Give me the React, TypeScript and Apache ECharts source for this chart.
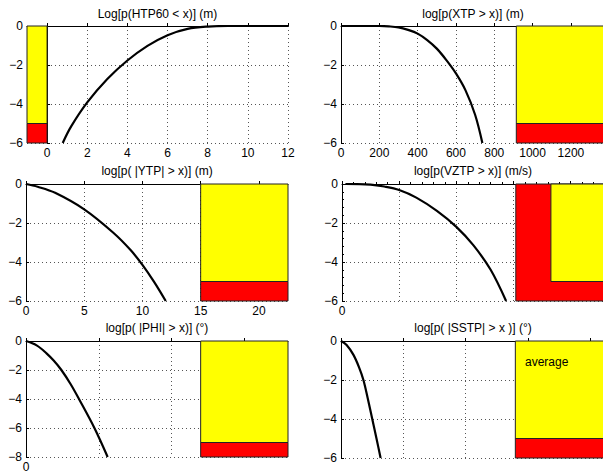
import React, { useEffect, useRef } from "react";
import * as echarts from "echarts";

const FONT = "'Liberation Sans', Arial, Helvetica, sans-serif";
const YELLOW = "#ffff00";
const RED = "#ff0000";

// Titles
const titles = [
  "Log[p(HTP60 < x)] (m)",
  "log[p(XTP > x)] (m)",
  "log[p( |YTP| > x)] (m)",
  "log[p(VZTP > x)] (m/s)",
  "log[p( |PHI| > x)] (°)",
  "log[p( |SSTP| > x )] (°)",
];

// Curves [x, log10 p]
const htpCurve = [
  [0.78, -6], [1.2, -5.15], [2, -3.92], [3, -2.72], [4, -1.77], [5, -1.02],
  [6, -0.47], [7, -0.15], [8, -0.03], [9, 0], [10, 0], [11, 0], [12, 0],
];
const xtpCurve = [
  [0, 0], [100, 0], [200, 0], [250, -0.02], [300, -0.07], [350, -0.2], [400, -0.39],
  [450, -0.72], [500, -1.16], [550, -1.75], [600, -2.43], [650, -3.3], [700, -4.55],
  [738, -6],
];
const ytpCurve = [
  [0, 0], [1, -0.14], [2.5, -0.45], [5, -1.3], [7.5, -2.5], [9, -3.4], [10, -4.15],
  [11, -5.02], [12, -6],
];
const vztpCurve = [
  [0.3, 0], [2.5, -0.03], [3.7, -0.13], [5, -0.31], [6.5, -0.7], [8.3, -1.38],
  [10, -2.2], [11.5, -3.15], [13, -4.4], [14.35, -6],
];
const phiCurve = [
  [0, 0], [0.73, -0.3], [1.41, -0.85], [1.9, -1.35], [2.43, -2], [3.05, -2.95],
  [3.64, -4], [4.7, -6], [5.61, -8],
];
const sstpCurve = [
  [0, 0], [0.45, -0.2], [0.99, -0.7], [1.45, -1.35], [1.8, -2], [2.15, -2.95],
  [2.51, -4], [2.85, -5], [3.18, -6],
];

// Rectangles [x0, x1, y0, y1] and their colours
const htpRects = [[-1, 0, 0, -5], [-1, 0, -5, -6]];
const xtpRects = [[915, 1378, 0, -5], [915, 1378, -5, -6]];
const ytpRects = [[15, 22.5, 0, -5], [15, 22.5, -5, -6]];
const vztpRects = [[15.2, 23, 0, -6], [18.27, 23, 0, -5]];
const phiRects = [[12, 18, 0, -7], [12, 18, -7, -8]];
const sstpRects = [[14, 21.2, 0, -5], [14, 21.2, -5, -6]];
const htpColors = [YELLOW, RED];
const xtpColors = [YELLOW, RED];
const ytpColors = [YELLOW, RED];
const vztpColors = [RED, YELLOW];
const phiColors = [YELLOW, RED];
const sstpColors = [YELLOW, RED];

// Axis ranges / ticks
const xMins = [-1, 0, 0, 0, 0, 0];
const xMaxs = [12, 1378, 22.5, 23, 18, 21.2];
const yMins = [-6, -6, -6, -6, -8, -6];
const xTicks = [
  [0, 2, 4, 6, 8, 10, 12],
  [0, 200, 400, 600, 800, 1000, 1200],
  [0, 5, 10, 15, 20],
  [0, 5, 10, 15, 20],
  [0, 5, 10, 15],
  [0, 5, 10, 15, 20],
];
const xLabels = [
  [0, 2, 4, 6, 8, 10, 12],
  [0, 200, 400, 600, 800, 1000, 1200],
  [0, 5, 10, 15, 20],
  [0],
  [0],
  null,
];

const curves = [htpCurve, xtpCurve, ytpCurve, vztpCurve, phiCurve, sstpCurve];
const rects = [htpRects, xtpRects, ytpRects, vztpRects, phiRects, sstpRects];
const rectColors = [htpColors, xtpColors, ytpColors, vztpColors, phiColors, sstpColors];

const grids = [
  { left: 27, top: 26, width: 261, height: 117 },
  { left: 341, top: 26, width: 264, height: 117 },
  { left: 26, top: 184, width: 262, height: 117 },
  { left: 342, top: 184, width: 263, height: 117 },
  { left: 26, top: 341, width: 262, height: 117 },
  { left: 341, top: 341, width: 264, height: 117 },
];

const minus = (v: any) => String(v).replace("-", "\u2212");

export default function App() {
  const ref = useRef<HTMLDivElement>(null);
  useEffect(() => {
    if (!ref.current) return;
    const chart = echarts.init(ref.current, undefined, { renderer: "svg" });
    const gridLine = { show: true, lineStyle: { color: "#555", type: [1, 3], width: 1 } };
    const xAxis = grids.map((_, i) => ({
      type: "value",
      gridIndex: i,
      min: xMins[i],
      max: xMaxs[i],
      axisLine: { show: true, lineStyle: { color: "#000", width: 1 } },
      axisTick: { show: true, inside: true, length: 3, lineStyle: { color: "#000" }, customValues: xTicks[i] },
      minorTick: i === 3 ? { show: true, splitNumber: 5, length: 2, lineStyle: { color: "#000" } } : { show: false },
      axisLabel: xLabels[i]
        ? { show: true, customValues: xLabels[i], color: "#000", fontSize: 12, fontFamily: FONT, margin: 4, formatter: minus }
        : { show: false },
      splitLine: gridLine,
    }));
    const yAxis = grids.map((_, i) => ({
      type: "value",
      gridIndex: i,
      min: yMins[i],
      max: 0,
      interval: 2,
      axisLine: { show: true, lineStyle: { color: "#000", width: 1 } },
      axisTick: { show: true, inside: true, length: 3, lineStyle: { color: "#000" } },
      minorTick: i === 3 ? { show: true, splitNumber: 5, length: 2, lineStyle: { color: "#000" } } : { show: false },
      axisLabel: { color: "#000", fontSize: 12, fontFamily: FONT, margin: 4, formatter: minus },
      splitLine: gridLine,
    }));
    const series: any[] = [];
    grids.forEach((_, i) => {
      const cols = rectColors[i];
      series.push({
        type: "custom",
        xAxisIndex: i,
        yAxisIndex: i,
        silent: true,
        z: 3,
        data: rects[i],
        encode: { x: [0, 1], y: [2, 3] },
        renderItem: (params: any, api: any) => {
          const p0 = api.coord([api.value(0), api.value(2)]);
          const p1 = api.coord([api.value(1), api.value(3)]);
          return {
            type: "rect",
            shape: {
              x: Math.min(p0[0], p1[0]),
              y: Math.min(p0[1], p1[1]),
              width: Math.abs(p1[0] - p0[0]),
              height: Math.abs(p1[1] - p0[1]),
            },
            style: { fill: cols[params.dataIndex], stroke: "#222", lineWidth: 1 },
          };
        },
      });
      series.push({
        type: "line",
        xAxisIndex: i,
        yAxisIndex: i,
        data: curves[i],
        showSymbol: false,
        smooth: 0.35,
        z: 4,
        lineStyle: { color: "#000", width: 2.2 },
      });
    });
    const titlePos = [
      [157.5, 13.5], [473, 13.5], [157, 171], [473, 171], [157, 327.5], [473, 327.5],
    ];
    const graphic: any[] = titles.map((t, i) => ({
      type: "text",
      x: titlePos[i][0],
      y: titlePos[i][1],
      silent: true,
      style: { text: t, fill: "#000", fontSize: 12, fontFamily: FONT, align: "center", verticalAlign: "middle" },
    }));
    graphic.push({
      type: "text",
      x: 525,
      y: 362,
      z: 10,
      silent: true,
      style: { text: "average", fill: "#000", fontSize: 12, fontFamily: FONT, align: "left", verticalAlign: "middle" },
    });
    chart.setOption({
      animation: false,
      backgroundColor: "#fff",
      grid: grids,
      xAxis,
      yAxis,
      series,
      graphic,
    });
    return () => chart.dispose();
  }, []);
  return (
    <div style={{ position: "fixed", left: 0, top: 0, width: 603, height: 473, overflow: "hidden", background: "#fff" }}>
      <div ref={ref} style={{ width: 620, height: 473 }} />
    </div>
  );
}
